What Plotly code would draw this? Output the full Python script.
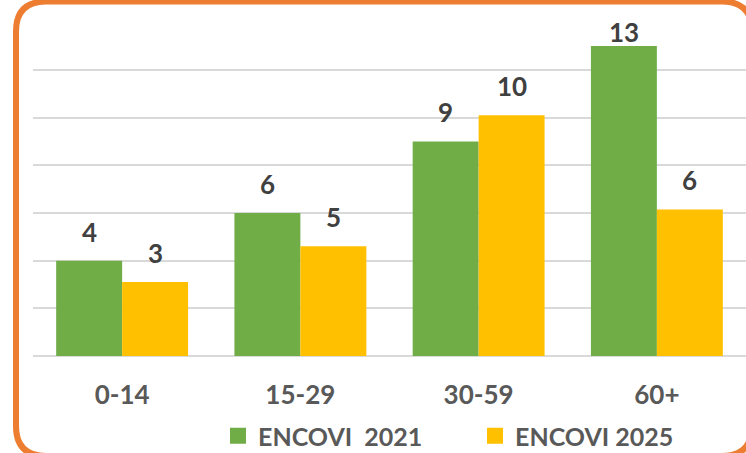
import plotly.graph_objects as go

categories = ["0-14", "15-29", "30-59", "60+"]
series_names = ["ENCOVI  2021", "ENCOVI 2025"]
values_2021 = [4.0, 6.0, 9.0, 13.0]
values_2025 = [3.1, 4.6, 10.1, 6.15]
colors = ["#70AD47", "#FFC000"]

W, H = 746, 453
ML, MR, MT, MB = 33, 0, 22, 97
YMAX = 14
PW = W - ML - MR
PH = H - MT - MB
FONT = "Lato"

def xp(px):
    return (px - ML) / PW

def yp(py):
    return (H - MB - py) / PH

fig = go.Figure()
all_vals = [values_2021, values_2025]
for name, vals, col in zip(series_names, all_vals, colors):
    fig.add_trace(go.Bar(
        x=categories, y=vals, name=name, marker=dict(color=col, line=dict(width=0)),
        showlegend=False, hoverinfo="skip",
    ))
    # legend proxy with a larger square marker
    fig.add_trace(go.Scatter(
        x=[None], y=[None], mode="markers", name=f"<b>{name}</b>",
        marker=dict(symbol="square", size=16, color=col),
    ))

# data labels (Excel style: above the bar, pushed down if no room)
annotations = []
bar_px = PW / len(categories) * 0.74 / 2
for i, vals in enumerate(all_vals):
    for c, v in zip(categories, vals):
        avail = (YMAX - v) / YMAX * PH
        shift = min(29, avail - 10)
        annotations.append(dict(
            x=c, y=v, xref="x", yref="y", text=f"<b>{round(v):d}</b>",
            showarrow=False, xshift=(i - 0.5) * bar_px, yshift=shift,
            yanchor="middle", font=dict(family=FONT, size=26, color="#404040"),
        ))

# rounded orange frame
L, T, R, B, r = 16, 1.5, 752, 456, 30
path = (
    f"M {xp(L + r)},{yp(T)} L {xp(R - r)},{yp(T)} Q {xp(R)},{yp(T)} {xp(R)},{yp(T + r)} "
    f"L {xp(R)},{yp(B - r)} Q {xp(R)},{yp(B)} {xp(R - r)},{yp(B)} "
    f"L {xp(L + r)},{yp(B)} Q {xp(L)},{yp(B)} {xp(L)},{yp(B - r)} "
    f"L {xp(L)},{yp(T + r)} Q {xp(L)},{yp(T)} {xp(L + r)},{yp(T)} Z"
)

fig.update_layout(
    width=W, height=H,
    margin=dict(l=ML, r=MR, t=MT, b=MB, autoexpand=False),
    paper_bgcolor="white", plot_bgcolor="white",
    barmode="group", bargap=0.26, bargroupgap=0,
    font=dict(family=FONT, color="#595959"),
    annotations=annotations,
    shapes=[dict(type="path", path=path, xref="paper", yref="paper",
                 line=dict(color="#ED7D31", width=6), layer="above")],
    legend=dict(orientation="h", x=xp(218), xanchor="left", y=yp(436), yanchor="middle",
                font=dict(family=FONT, size=25, color="#595959"),
                entrywidth=212, entrywidthmode="pixels", itemsizing="trace",
                bgcolor="rgba(0,0,0,0)"),
)
fig.update_xaxes(showgrid=False, showline=False, ticks="", ticklabelstandoff=21,
                 tickfont=dict(family=FONT, size=26, color="#595959"),
                 tickprefix="<b>", ticksuffix="</b>")
fig.update_yaxes(range=[0, YMAX * 1.0008], tick0=0, dtick=2, showticklabels=False, showgrid=True,
                 gridcolor="#D9D9D9", gridwidth=1.5, zeroline=True,
                 zerolinecolor="#D9D9D9", zerolinewidth=2, showline=False)

fig.write_html("out.html", config={"displayModeBar": False},
               post_script="document.body.style.margin='0';document.body.style.overflow='hidden';")
